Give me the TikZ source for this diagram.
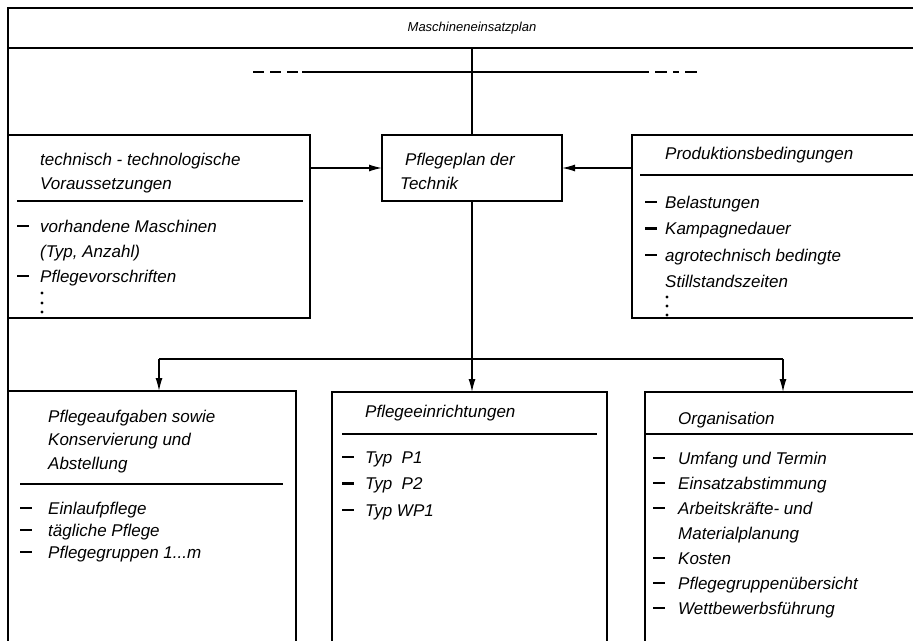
\documentclass[tikz,border=0pt]{standalone}
\usepackage{fontspec}
\setmainfont{Liberation Sans}
\usetikzlibrary{arrows.meta}
\newcommand\mylines[1]{\begin{tabular}[t]{@{}l@{}}#1\end{tabular}}
\newcommand\myitems[2]{\begin{tabular}[t]{@{}p{#1}@{}l@{}}#2\end{tabular}}
\newcommand\dsh{\rule[5pt]{12pt}{2.2pt}}
\tikzset{
  frameline/.style={line width=1.8pt},
  boxline/.style={draw, rectangle, line width=2.2pt, inner sep=0pt, outer sep=0pt, anchor=north west},
  divline/.style={line width=2pt},
  conn/.style={line width=1.3pt},
  arr/.style={conn, -{Latex[length=13pt,width=7pt]}},
  txt/.style={anchor=base west, inner sep=0pt, font=\fontsize{17}{#1}\selectfont\itshape},
  txt/.default=24,
  dot/.style={fill=black},
}
\begin{document}
\begin{tikzpicture}[x=1pt,y=-1pt]
\clip (0,0) rectangle (913,640);
\fill[white] (0,0) rectangle (913,640);

% outer frame and title
\draw[frameline] (930,8) -- (8,8) -- (8,660);
\draw[frameline] (8,48) -- (930,48);
\node[inner sep=0pt, font=\fontsize{13}{16}\selectfont\itshape] (title) at (472,28) {Maschineneinsatzplan};

% boxes
\node[boxline, minimum width=302pt, minimum height=183pt] (tech) at (8,135) {};
\node[boxline, minimum width=180pt, minimum height=66pt] (plan) at (382,135) {};
\node[boxline, minimum width=300pt, minimum height=183pt] (prod) at (632,135) {};
\node[boxline, minimum width=288pt, minimum height=280pt] (pa) at (8,391) {};
\node[boxline, minimum width=275pt, minimum height=280pt] (pe) at (332,392) {};
\node[boxline, minimum width=290pt, minimum height=280pt] (org) at (645,392) {};

% dividers
\draw[divline] (17,201) -- (303,201);
\draw[divline] (640,175) -- (930,175);
\draw[divline] (20,484) -- (283,484);
\draw[divline] (342,434) -- (597,434);
\draw[divline] (645,434) -- (930,434);

% connectors
\coordinate (top) at (472,48);
\draw[conn] (top) -- (top |- plan.north);
\coordinate (dl) at (253,72);
\coordinate (dls) at (302,72);
\coordinate (drs) at (643,72);
\coordinate (dr) at (700,72);
\draw[conn] (dls) -- (drs);
\draw[conn, line width=1.8pt, dash pattern=on 11pt off 6pt] (dl) -- (dls);
\draw[conn, line width=1.8pt, dash pattern=on 6pt off 6pt on 12pt off 6pt] (drs) -- (dr);

\draw[arr] (tech.east |- plan.west) -- (plan.west);
\draw[arr] (prod.west |- plan.east) -- (plan.east);

\coordinate (j) at (472,359);
\coordinate (jl) at (159,359);
\coordinate (jr) at (783,359);
\draw[conn] (j |- plan.south) -- (j);
\draw[conn] (jl) -- (jr);
\draw[arr] (j) -- (j |- pe.north);
\draw[arr] (jl) -- (jl |- pa.north);
\draw[arr] (jr) -- (jr |- org.north);

% texts
\node[txt] (techT) at (40,165) {\mylines{technisch - technologische\\Voraussetzungen}};
\node[txt=25] (techI) at (17,232) {\myitems{23pt}{\dsh & vorhandene Maschinen\\ & (Typ, Anzahl)\\ \dsh & Pflegevorschriften}};
\foreach \yy in {293,303,312} \fill[dot] (42,\yy) circle (1.6pt);

\node[txt] (planT) at (400,165) {\mylines{\hspace{5pt}Pflegeplan der\\Technik}};

\node[txt] (prodT) at (665,159) {Produktionsbedingungen};
\node[txt=26.5] (prodI) at (645,208) {\myitems{20pt}{\dsh & Belastungen\\ \dsh & Kampagnedauer\\ \dsh & agrotechnisch bedingte\\ & Stillstandszeiten}};
\foreach \yy in {297,306,315} \fill[dot] (667,\yy) circle (1.6pt);

\node[txt=23.5] (paT) at (48,422) {\mylines{Pflegeaufgaben sowie\\Konservierung und\\Abstellung}};
\node[txt=22] (paI) at (20,514) {\myitems{28pt}{\dsh & Einlaufpflege\\ \dsh & tägliche Pflege\\ \dsh & Pflegegruppen 1...m}};

\node[txt] (peT) at (365,417) {Pflegeeinrichtungen};
\node[txt=26.5] (peI) at (342,463) {\myitems{23pt}{\dsh & Typ~~P1\\ \dsh & Typ~~P2\\ \dsh & Typ WP1}};

\node[txt] (orgT) at (678,424) {Organisation};
\node[txt=25] (orgI) at (653,464) {\myitems{25pt}{\dsh & Umfang und Termin\\ \dsh & Einsatzabstimmung\\ \dsh & Arbeitskräfte- und\\ & Materialplanung\\ \dsh & Kosten\\ \dsh & Pflegegruppenübersicht\\ \dsh & Wettbewerbsführung}};
\end{tikzpicture}
\end{document}
